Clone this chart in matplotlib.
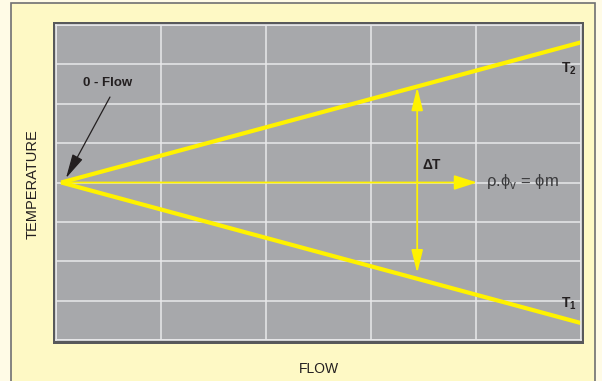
import matplotlib
matplotlib.use("Agg")
import matplotlib.pyplot as plt
from matplotlib.patches import Rectangle

# dados do diagrama (fluxo x temperatura)
flow_start = 0.05
flow_end = 5.0
temp_start = 4.0
t2_end = 7.56
t1_end = 0.43
mass_arrow_end = 4.01
dt_flow = 3.44
dt_top = 6.42
dt_bottom = 1.70
x_grid = [0, 1, 2, 3, 4, 5]
y_grid = [0, 1, 2, 3, 4, 5, 6, 7, 8]

fonts = ["Liberation Sans", "DejaVu Sans"]
plt.rcParams["font.family"] = fonts
plt.rcParams["mathtext.fontset"] = "custom"
plt.rcParams["mathtext.rm"] = "Liberation Sans"
plt.rcParams["mathtext.bf"] = "Liberation Sans:bold"

W, H = 602, 381
fig = plt.figure(figsize=(W / 100, H / 100), dpi=100)
fig.patch.set_facecolor("#fffbe6")


def px_rect(x0, y0, x1, y1, **kw):
    """Retangulo em pixels (origem no topo) para coords da figura."""
    return Rectangle((x0 / W, 1 - y1 / H), (x1 - x0) / W, (y1 - y0) / H,
                     transform=fig.transFigure, **kw)


# painel amarelo e moldura escura
fig.patches.append(px_rect(11, 3, 595, 384, facecolor="#fef9c5",
                           edgecolor="#707072", lw=1.2, zorder=0))
fig.patches.append(px_rect(53, 22, 584, 344, facecolor="#58595b",
                           edgecolor="none", zorder=1))

ax = fig.add_axes([56 / W, 1 - 340 / H, 525 / W, 315 / H], zorder=2)
ax.set_facecolor("#a7a8ab")
ax.set_xlim(0, 5)
ax.set_ylim(0, 8)
ax.set_xticks(x_grid)
ax.set_yticks(y_grid)
ax.tick_params(length=0, labelleft=False, labelbottom=False)
ax.grid(True, color="#e8e8ea", lw=1.1)
for s in ax.spines.values():
    s.set_color("#e8e8ea")
    s.set_linewidth(1.2)

yellow = "#fff200"
ax.plot([flow_start, flow_end], [temp_start, t2_end], color=yellow, lw=3,
        solid_capstyle="butt")
ax.plot([flow_start, flow_end], [temp_start, t1_end], color=yellow, lw=3,
        solid_capstyle="butt")

# seta horizontal (vazao massica)
ax.annotate("", xy=(mass_arrow_end, temp_start), xytext=(flow_start, temp_start),
            arrowprops=dict(arrowstyle="-|>,head_length=1.4,head_width=0.45",
                            color=yellow, lw=1.3, shrinkA=0, shrinkB=0))
# seta dupla delta T
ax.annotate("", xy=(dt_flow, dt_top), xytext=(dt_flow, dt_bottom),
            arrowprops=dict(arrowstyle="<|-|>,head_length=1.4,head_width=0.35",
                            color=yellow, lw=1.3, shrinkA=0, shrinkB=0))

# seta 0 - Flow
ax.annotate("", xy=(0.095, 4.11), xytext=(0.514, 6.17),
            arrowprops=dict(arrowstyle="-|>,head_length=1.5,head_width=0.35",
                            color="#231f20", lw=0.9, shrinkA=0, shrinkB=0))
ax.text(0.49, 6.52, "0 - Flow", ha="center", va="center", fontsize=9.5,
        fontweight="bold", color="#231f20")

ax.text(4.88, 6.88, r"T$_\mathbf{2}$", fontsize=10, fontweight="bold",
        color="#231f20", ha="center", va="center")
ax.text(4.88, 0.93, r"T$_\mathbf{1}$", fontsize=10, fontweight="bold",
        color="#231f20", ha="center", va="center")
ax.text(3.58, 4.45, "ΔT", fontsize=10, fontweight="bold", color="#231f20",
        ha="center", va="center")
ax.text(4.10, 4.03, r"ρ.ϕ$_\mathregular{v}$ = ϕm", fontsize=12,
        color="#3a3a3c", ha="left", va="center")

fig.text(33 / W, 1 - 184 / H, "TEMPERATURE", rotation=90, fontsize=10.5,
         color="#231f20", ha="center", va="center")
fig.text(319 / W, 1 - 369 / H, "FLOW", fontsize=10, color="#231f20",
         ha="center", va="center")

fig.savefig("out.png", dpi=100, facecolor=fig.get_facecolor())
